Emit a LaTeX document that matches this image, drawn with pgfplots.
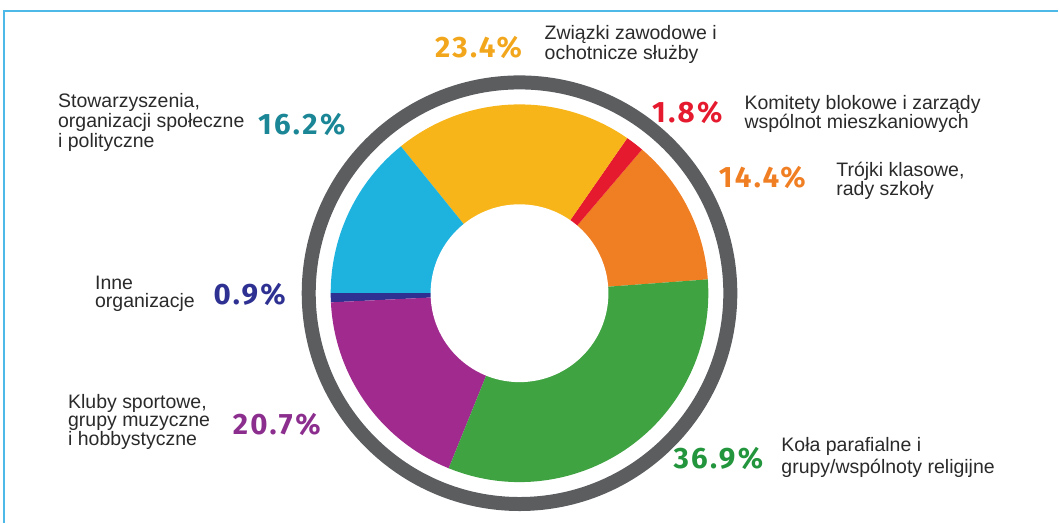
\documentclass[border=0pt]{standalone}
\usepackage{pgfplots}
\pgfplotsset{compat=1.18}
\usepackage{pgfplotstable}
\usepackage{fontspec}
\setmainfont{Liberation Sans}
\newfontfamily\pctfont[LetterSpace=8]{Fira Sans}

\definecolor{slice0}{HTML}{F07E22}
\definecolor{slice1}{HTML}{E61A2E}
\definecolor{slice2}{HTML}{F8B519}
\definecolor{slice3}{HTML}{1EB2DF}
\definecolor{slice4}{HTML}{2E3192}
\definecolor{slice5}{HTML}{A12A8F}
\definecolor{slice6}{HTML}{3EA340}
\definecolor{ringgray}{HTML}{5B5D5F}
\definecolor{txt}{HTML}{2A2A2A}
\definecolor{frameblue}{HTML}{4DB9E9}

\tikzset{
  lbl/.style 2 args={font=\fontsize{#1}{#2}\selectfont, text=txt, align=left, anchor=west, inner sep=0pt},
  pct/.style={font=\pctfont\bfseries\fontsize{29.5}{30}\selectfont, inner sep=0pt},
}

% slices counter-clockwise, starting at the orange/green border
\pgfplotstableread{
value
14.4
1.8
23.4
16.2
0.9
20.7
36.9
}\slices

\begin{document}
\begin{tikzpicture}
% start and end angle of each slice
\pgfplotstablegetrowsof{\slices}
\pgfmathtruncatemacro\lastrow{\pgfplotsretval-1}
\xdef\total{0}
\foreach \i in {0,...,\lastrow}{
  \pgfplotstablegetelem{\i}{value}\of\slices
  \pgfmathparse{\total+\pgfplotsretval}
  \xdef\total{\pgfmathresult}
}
\xdef\acc{4.2}
\foreach \i in {0,...,\lastrow}{
  \pgfplotstablegetelem{\i}{value}\of\slices
  \pgfmathsetmacro\wspan{360*\pgfplotsretval/\total}
  \expandafter\xdef\csname sa\i\endcsname{\acc}
  \pgfmathparse{\acc+\wspan}
  \xdef\acc{\pgfmathresult}
  \expandafter\xdef\csname ea\i\endcsname{\acc}
}

\begin{axis}[
    scale only axis,
    width=1059pt, height=523pt,
    xmin=0, xmax=1059, ymin=0, ymax=523,
    hide axis,
    clip=false,
]
\path (axis cs:0,0) rectangle (axis cs:1059,523);
\draw[frameblue, line width=2pt] (axis cs:4,0) -- (axis cs:4,511.5) -- (axis cs:1059,511.5);

\pgfplotsinvokeforeach{0,...,6}{
  \fill[slice#1] (axis cs:520,229.5) -- ++(\csname sa#1\endcsname:189pt)
    arc[start angle=\csname sa#1\endcsname, end angle=\csname ea#1\endcsname, radius=189pt] -- cycle;
}
\fill[white] (axis cs:520,229.5) circle[radius=89pt];
\draw[ringgray, line width=14pt] (axis cs:520,229.5) circle[radius=211pt];

\node[lbl={19.5}{20}] at (axis cs:545,478) {Związki zawodowe i\\ochotnicze służby};
\node[pct, text={rgb,255:red,242;green,166;blue,28}] at (axis cs:479,475) {23.4\%};
\node[lbl={19.5}{20}] at (axis cs:58,400) {Stowarzyszenia,\\organizacji społeczne\\i polityczne};
\node[pct, text={rgb,255:red,26;green,134;blue,150}] at (axis cs:302,398) {16.2\%};
\node[lbl={19.5}{18.5}] at (axis cs:95,229) {Inne\\organizacje};
\node[pct, text=slice4] at (axis cs:250,228) {0.9\%};
\node[lbl={19.5}{18}] at (axis cs:68,101) {Kluby sportowe,\\grupy muzyczne\\i hobbystyczne};
\node[pct, text={rgb,255:red,139;green,46;blue,142}] at (axis cs:277,98) {20.7\%};
\node[lbl={19.5}{18.5}] at (axis cs:745,409) {Komitety blokowe i zarządy\\wspólnot mieszkaniowych};
\node[pct, text=slice1] at (axis cs:688,410) {1.8\%};
\node[lbl={19.5}{18.5}] at (axis cs:837,342) {Trójki klasowe,\\rady szkoły};
\node[pct, text=slice0] at (axis cs:763,345) {14.4\%};
\node[lbl={19.5}{21.5}] at (axis cs:782,65) {Koła parafialne i\\grupy/wspólnoty religijne};
\node[pct, text={rgb,255:red,35;green,149;blue,61}] at (axis cs:719,64) {36.9\%};
\end{axis}
\end{tikzpicture}
\end{document}
